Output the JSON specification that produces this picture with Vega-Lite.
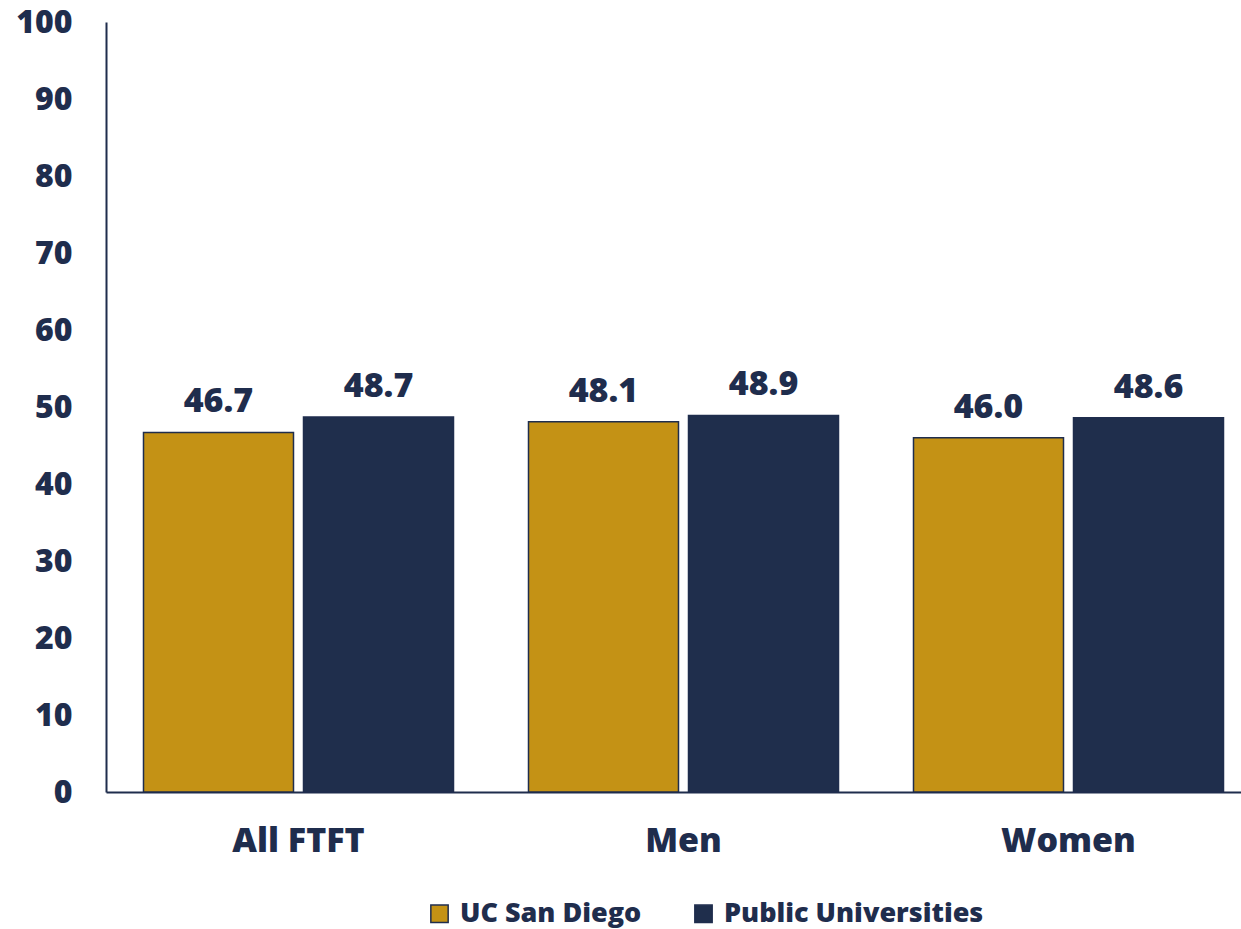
{
  "$schema": "https://vega.github.io/schema/vega-lite/v6.json",
  "width": 1155,
  "height": 770,
  "autosize": {"type": "none"},
  "padding": {"left": 106, "top": 22, "right": 0, "bottom": 137},
  "background": "white",
  "config": {
    "view": {"stroke": null},
    "font": "Open Sans",
    "axis": {"labelFont": "Open Sans", "labelFontWeight": 800, "labelColor": "#1F2D4D", "domainColor": "#1F2D4D", "domainWidth": 2, "ticks": false, "grid": false, "title": null}
  },
  "data": {
    "values": [
      {"group": "All FTFT", "series": "UC San Diego", "value": 46.7},
      {"group": "All FTFT", "series": "Public Universities", "value": 48.7},
      {"group": "Men", "series": "UC San Diego", "value": 48.1},
      {"group": "Men", "series": "Public Universities", "value": 48.9},
      {"group": "Women", "series": "UC San Diego", "value": 46.0},
      {"group": "Women", "series": "Public Universities", "value": 48.6}
    ]
  },
  "encoding": {
    "x": {
      "field": "group", "type": "nominal", "sort": ["All FTFT", "Men", "Women"],
      "scale": {"paddingInner": 0.1948, "paddingOuter": 0.0974},
      "axis": {"labelAngle": 0, "labelFontSize": 34, "labelPadding": 32}
    },
    "xOffset": {
      "field": "series", "type": "nominal", "sort": ["UC San Diego", "Public Universities"],
      "scale": {"paddingInner": 0.0625, "paddingOuter": 0}
    },
    "y": {
      "field": "value", "type": "quantitative",
      "scale": {"domain": [0, 100]},
      "axis": {"values": [0, 10, 20, 30, 40, 50, 60, 70, 80, 90, 100], "labelFontSize": 32, "labelPadding": 34}
    }
  },
  "layer": [
    {
      "mark": {"type": "bar", "stroke": "#1F2D4D", "strokeWidth": 1.5},
      "encoding": {
        "color": {
          "field": "series", "type": "nominal", "sort": ["UC San Diego", "Public Universities"],
          "scale": {"domain": ["UC San Diego", "Public Universities"], "range": ["#C49215", "#1F2E4C"]},
          "legend": {
            "orient": "none", "legendX": 320, "legendY": 878, "direction": "horizontal", "title": null,
            "labelFont": "Open Sans", "labelFontWeight": 800, "labelFontSize": 27, "labelColor": "#1F2D4D", "labelLimit": 0,
            "symbolType": "square", "symbolSize": 300, "symbolStrokeColor": "#1F2D4D", "symbolStrokeWidth": 1.5,
            "columnPadding": 48, "labelOffset": 7
          }
        }
      }
    },
    {
      "mark": {"type": "text", "baseline": "bottom", "dy": -13, "fontSize": 34, "fontWeight": 800, "color": "#1F2D4D", "font": "Open Sans"},
      "encoding": {
        "text": {"field": "value", "type": "quantitative", "format": ".1f"}
      }
    }
  ]
}
